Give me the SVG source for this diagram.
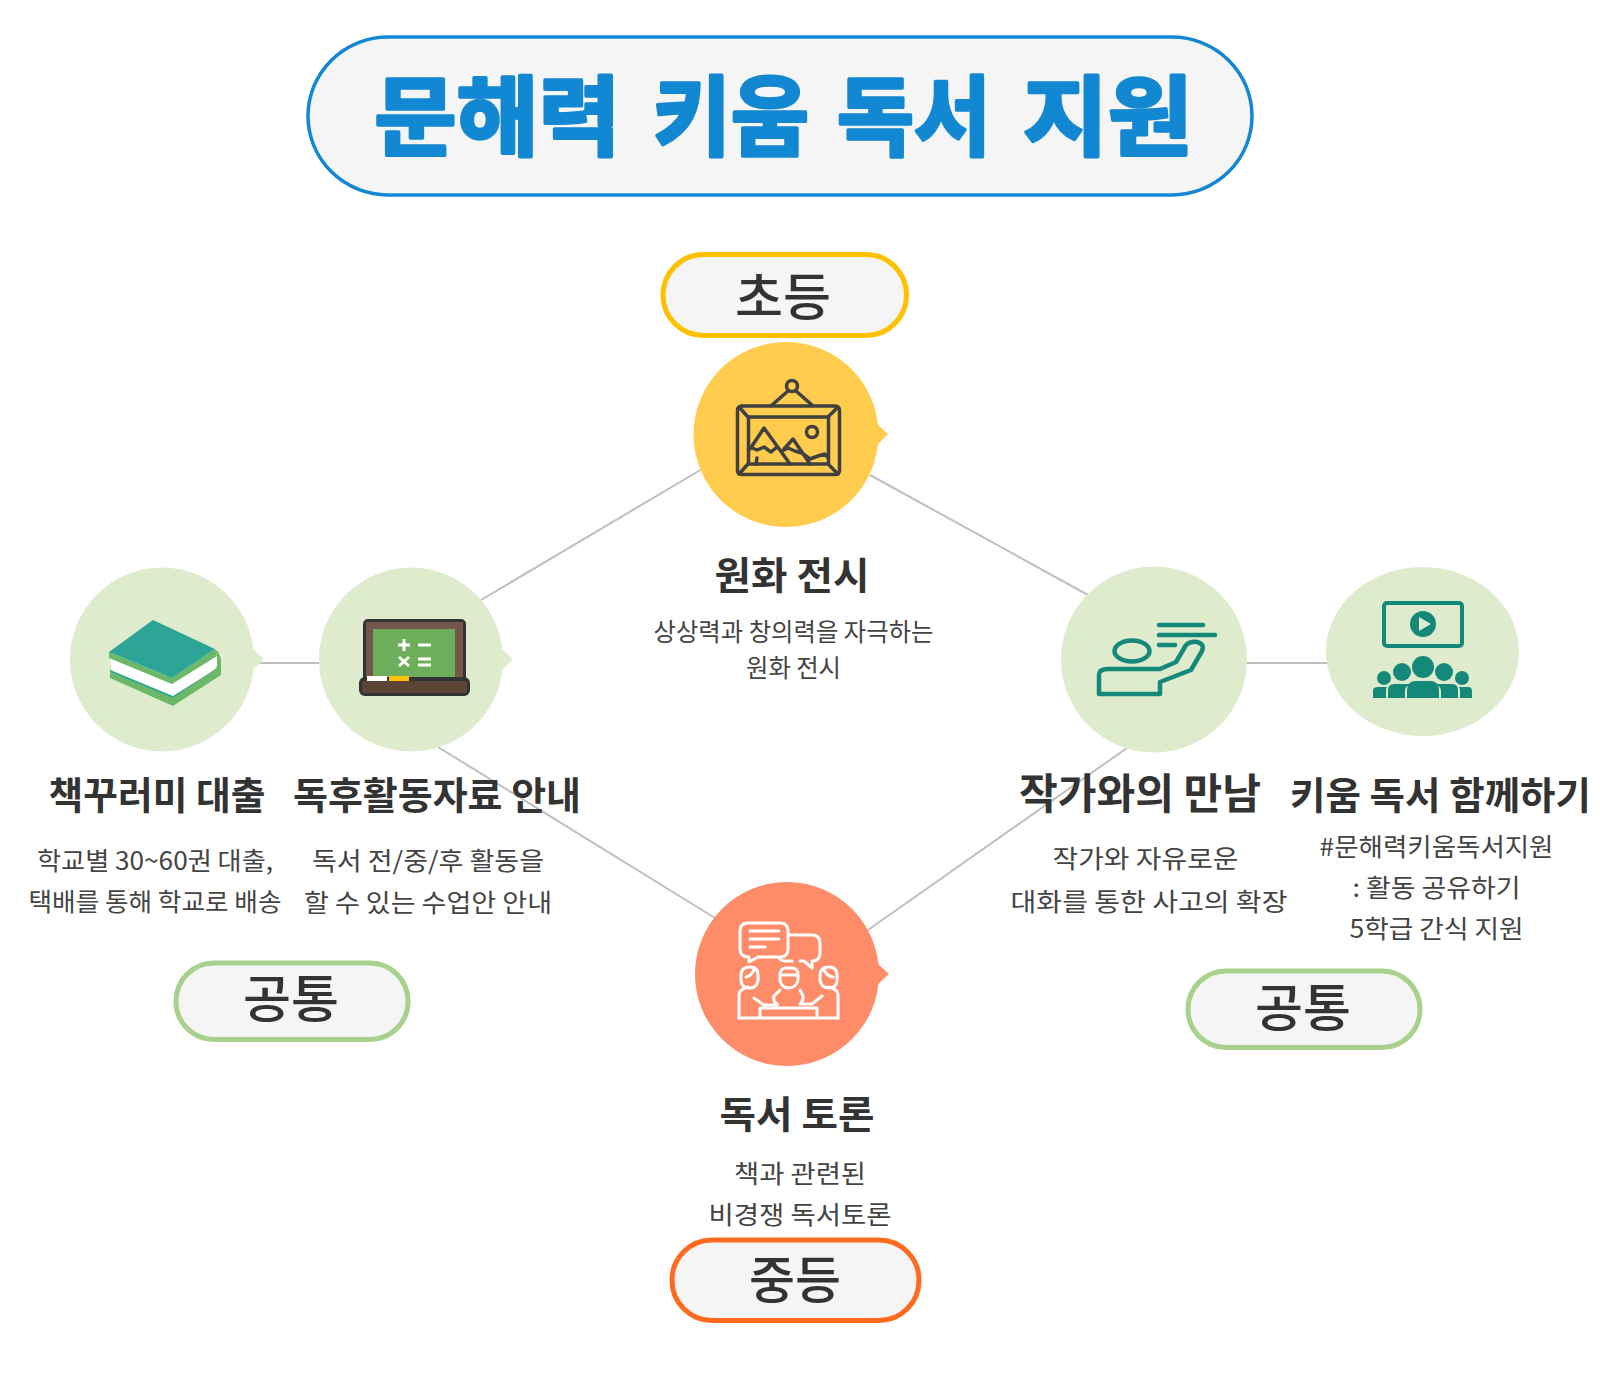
<svg xmlns="http://www.w3.org/2000/svg" width="1600" height="1400" viewBox="0 0 1600 1400">
<style>
text{font-family:"Noto Sans CJK KR","Noto Sans",sans-serif;text-anchor:middle;fill:#333}
.h{font-size:38px;font-weight:700}
.s{font-size:25px;font-weight:400;fill:#444}
.p{font-size:51px;font-weight:500}
.t{font-size:87px;font-weight:700;fill:#1287d2;stroke:#1287d2;stroke-width:3.500;stroke-linejoin:round}
.pill{fill:#f5f5f5;stroke-width:5}
.lt{fill:#deeccd}
.con{stroke:#bfbfbf;stroke-width:2;fill:none}
.fr{fill:none;stroke:#404040;stroke-width:3.500;stroke-linecap:round;stroke-linejoin:round}
.tl{fill:none;stroke:#14897a;stroke-width:4.500;stroke-linecap:round;stroke-linejoin:round}
.tf{fill:#14897a}
.wh{fill:none;stroke:#fff;stroke-width:3;stroke-linecap:round;stroke-linejoin:round}
</style>
<g id="connectors">
<path class="con" d="M702 469L481 600"/>
<path class="con" d="M870 475L1088 595"/>
<path class="con" d="M438 747L715 918"/>
<path class="con" d="M1127 748L868 930"/>
<path class="con" d="M256 663H325"/>
<path class="con" d="M1240 663H1332"/>
</g>
<g id="title">
<rect x="308" y="37" width="944" height="158" rx="80" ry="79" fill="#f5f5f5" stroke="#1287d2" stroke-width="3.500"/>
<text class="t" x="497.500" y="149" textLength="246" lengthAdjust="spacingAndGlyphs">문해력</text>
<text class="t" x="731" y="149" textLength="156" lengthAdjust="spacingAndGlyphs">키움</text>
<text class="t" x="914" y="149" textLength="154" lengthAdjust="spacingAndGlyphs">독서</text>
<text class="t" x="1108" y="149" textLength="170" lengthAdjust="spacingAndGlyphs">지원</text>
</g>
<g id="pill-elementary">
<rect class="pill" x="663" y="254.500" width="243.500" height="81" rx="40.500" stroke="#ffc000"/>
<text class="p" x="783" y="316" textLength="96" lengthAdjust="spacingAndGlyphs">초등</text>
</g>
<g id="node-exhibit">
<path d="M877 424L888 434L877 445Z" fill="#ffcc4d"/>
<circle cx="786" cy="434.500" r="92.500" fill="#ffcc4d"/>
<rect class="fr" x="737.500" y="406" width="102" height="68.500" rx="4"/>
<rect class="fr" x="748.500" y="417" width="80" height="47"/>
<path class="fr" d="M739 407L748 417M838 407L828 417M739 474L748 464M838 474L828 464M772 405L788 391M812 405L796 391"/>
<circle class="fr" cx="792" cy="386" r="5.500"/>
<circle class="fr" cx="812" cy="432" r="5.500"/>
<path class="fr" d="M750 449L764 428L790 464M784 449L793 439L810 464M750 447L757 450L764 447L771 452L777 447M782 451L788 448L795 451L802 453L810 459L818 456L825 454L828 458M757 458L756 464"/>
<text class="h" x="792" y="589" textLength="155" lengthAdjust="spacingAndGlyphs">원화 전시</text>
<text class="s" x="793.500" y="641" textLength="280" lengthAdjust="spacingAndGlyphs">상상력과 창의력을 자극하는</text>
<text class="s" x="793.500" y="677" textLength="95" lengthAdjust="spacingAndGlyphs">원화 전시</text>
</g>
<g id="node-book">
<path d="M253 649L264 659L253 670Z" fill="#deeccd"/>
<circle class="lt" cx="162" cy="659.500" r="92"/>
<path d="M112 670L172 698L216 668L222 655L215 649L172 678L109 652Z" fill="#fff"/>
<path d="M110 672L173 700L218 672V668L173 696L110 670Z" fill="#2da596"/>
<path d="M110 672V678L173 706L221 675V660Q221 652 214 649L217 655V663Q218 668 214 670L173 698Z" fill="#6cb868"/>
<path d="M109 652V658L172 684L217 656L215 649L172 678Z" fill="#6cb868"/>
<path d="M109 652L153 620L215 649L172 678Z" fill="#2da596"/>
<text class="h" x="157" y="809" textLength="217" lengthAdjust="spacingAndGlyphs">책꾸러미 대출</text>
<text class="s" x="155" y="870" textLength="236" lengthAdjust="spacingAndGlyphs">학교별 30~60권 대출,</text>
<text class="s" x="155" y="911" textLength="253" lengthAdjust="spacingAndGlyphs">택배를 통해 학교로 배송</text>
</g>
<g id="node-board">
<path d="M502 649L513 659L502 670Z" fill="#deeccd"/>
<circle class="lt" cx="411" cy="659.500" r="92"/>
<rect x="363" y="619" width="103" height="68" rx="5" fill="#333"/>
<rect x="366" y="622" width="97" height="60" fill="#74574a"/>
<rect x="373" y="629" width="82" height="52" fill="#6dae5a"/>
<rect x="359" y="677" width="111" height="19" rx="6" fill="#333"/>
<rect x="362" y="681" width="105" height="12" rx="2" fill="#5c4436"/>
<rect x="367" y="676" width="20" height="5" fill="#fff"/>
<rect x="389" y="676" width="20" height="5" fill="#ffc000"/>
<path d="M398 645H410M404 639V651M418 645H431M399 657L409 666M409 657L399 666M418 659H431M418 665H431" stroke="#fff" stroke-width="3" fill="none"/>
<text class="h" x="437" y="809" textLength="288" lengthAdjust="spacingAndGlyphs">독후활동자료 안내</text>
<text class="s" x="428" y="870" textLength="232" lengthAdjust="spacingAndGlyphs">독서 전/중/후 활동을</text>
<text class="s" x="428" y="912" textLength="248" lengthAdjust="spacingAndGlyphs">할 수 있는 수업안 안내</text>
</g>
<g id="node-author">
<circle class="lt" cx="1154" cy="659.500" r="93"/>
<ellipse class="tl" cx="1132" cy="651" rx="17.500" ry="10.500"/>
<path class="tl" d="M1159 625H1203M1159 635H1215M1159 645H1175"/>
<path class="tl" d="M1099 693V675Q1099 669 1108 669H1160L1176 662L1186 645Q1190 641 1197 642Q1205 644 1202 651L1191 670L1160 682V694H1099Z"/>
<text class="h" x="1140" y="809" style="font-size:42px" textLength="242" lengthAdjust="spacingAndGlyphs">작가와의 만남</text>
<text class="s" x="1145.500" y="868" textLength="186" lengthAdjust="spacingAndGlyphs">작가와 자유로운</text>
<text class="s" x="1149" y="911" textLength="277" lengthAdjust="spacingAndGlyphs">대화를 통한 사고의 확장</text>
</g>
<g id="node-together">
<ellipse class="lt" cx="1422.500" cy="651.500" rx="96.500" ry="84.500"/>
<rect x="1384" y="603" width="78" height="43" rx="3" fill="none" stroke="#14897a" stroke-width="4"/>
<circle class="tf" cx="1423" cy="624" r="13"/>
<path d="M1419 617L1431 624L1419 631Z" fill="#deeccd"/>
<circle class="tf" cx="1423" cy="667" r="11"/>
<circle class="tf" cx="1402" cy="672" r="9"/>
<circle class="tf" cx="1444" cy="672" r="9"/>
<circle class="tf" cx="1384" cy="678" r="7"/>
<circle class="tf" cx="1462" cy="678" r="7"/>
<path class="tf" d="M1407 698V690Q1407 681 1416 681H1430Q1439 681 1439 690V698ZM1388 698V690Q1388 684 1394 684H1410Q1405 687 1405 691V698ZM1441 698V691Q1441 687 1436 684H1452Q1458 684 1458 690V698ZM1373 698V691Q1373 687 1378 687H1387Q1386 688 1386 691V698ZM1460 698V691Q1460 688 1459 687H1468Q1472 687 1472 691V698Z"/>
<text class="h" x="1440.500" y="809" textLength="301" lengthAdjust="spacingAndGlyphs">키움 독서 함께하기</text>
<text class="s" x="1436.500" y="856" textLength="234" lengthAdjust="spacingAndGlyphs">#문해력키움독서지원</text>
<text class="s" x="1436.500" y="897" textLength="168" lengthAdjust="spacingAndGlyphs">: 활동 공유하기</text>
<text class="s" x="1436.500" y="938" textLength="174" lengthAdjust="spacingAndGlyphs">5학급 간식 지원</text>
</g>
<g id="pill-common-left">
<rect class="pill" x="176" y="963" width="232" height="76.500" rx="38" stroke="#a9d18e"/>
<text class="p" x="291" y="1018" textLength="96" lengthAdjust="spacingAndGlyphs">공통</text>
</g>
<g id="pill-common-right">
<rect class="pill" x="1188" y="971" width="232" height="76.500" rx="38" stroke="#a9d18e"/>
<text class="p" x="1303" y="1027" textLength="96" lengthAdjust="spacingAndGlyphs">공통</text>
</g>
<g id="node-discussion">
<path d="M877 963L889 974L877 985Z" fill="#ff8c69"/>
<circle cx="787" cy="974" r="92" fill="#ff8c69"/>
<path class="wh" d="M748 923H780Q788 923 788 931V949Q788 957 780 957H758L749 962V957Q740 957 740 949V931Q740 923 748 923ZM750 931H779M750 939H779M750 947H765"/>
<path class="wh" d="M790 935H812Q820 935 820 943V953Q820 961 812 961V968L804 961H800M779 958Q781 961 786 961H792"/>
<path class="wh" d="M741 975Q741 967 750 967Q758 967 758 975V980Q757 988 750 988Q741 988 741 980ZM746 977Q751 976 754 970M780 975Q780 969 785 968H793Q798 969 798 975V980Q796 988 789 988Q781 988 780 980ZM780 975H798M820 975Q820 967 829 967Q837 967 837 975V980Q837 988 829 988Q821 988 820 980ZM833 977Q827 976 824 970"/>
<path class="wh" d="M739 1018V994Q739 990 748 987M754 998L764 1005H776Q779 1005 776 1003M775 1003Q773 1000 774 996L780 990M800 990L803 996Q804 1000 800 1004H812L822 996M829 987Q838 990 838 994V1018"/>
<path class="wh" d="M739 1018H838M760 1018V1008H817V1018"/>
<text class="h" x="797" y="1128" textLength="155" lengthAdjust="spacingAndGlyphs">독서 토론</text>
<text class="s" x="800" y="1183" textLength="132" lengthAdjust="spacingAndGlyphs">책과 관련된</text>
<text class="s" x="800" y="1224" textLength="183" lengthAdjust="spacingAndGlyphs">비경쟁 독서토론</text>
</g>
<g id="pill-middle">
<rect class="pill" x="672" y="1240" width="247" height="80.500" rx="40" stroke="#ff6a1f"/>
<text class="p" x="795" y="1299" textLength="92" lengthAdjust="spacingAndGlyphs">중등</text>
</g>
</svg>
